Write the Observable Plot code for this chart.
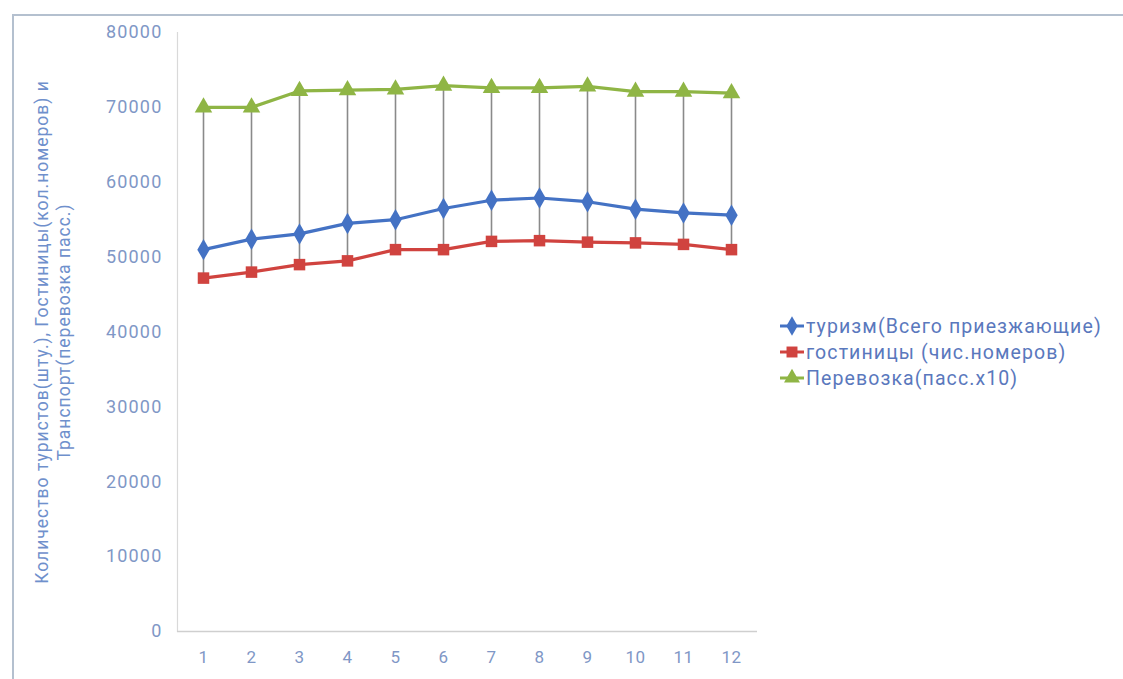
<!DOCTYPE html>
<html><head><meta charset="utf-8">
<script src="https://cdn.jsdelivr.net/npm/d3@7"></script>
<script src="https://cdn.jsdelivr.net/npm/@observablehq/plot@0.6"></script>
<style>
html,body{margin:0;padding:0;background:#fff;}
#wrap{position:relative;width:1123px;height:679px;overflow:hidden;font-family:Roboto,"Noto Sans",sans-serif;}
#frame{position:absolute;left:12px;top:14px;width:1200px;height:800px;border-left:2px solid #b4c0cf;border-top:2px solid #b4c0cf;}
#chart{position:absolute;left:0;top:0;}
#legend{position:absolute;left:780px;top:313px;font-size:19.5px;letter-spacing:1.1px;color:#5a78bd;}
#legend .row{display:flex;align-items:center;height:26px;white-space:nowrap;}
#legend svg{margin-right:2px;}
</style></head>
<body><div id="wrap"><div id="frame"></div><div id="chart"></div><div id="legend"></div></div>
<script>
const months = [1,2,3,4,5,6,7,8,9,10,11,12];
const tourism = [51000,52400,53100,54500,55000,56500,57600,57900,57400,56400,55900,55600];
const hotels  = [47200,48000,49000,49500,51000,51000,52100,52200,52000,51900,51700,51000];
const transport = [70000,70000,72200,72300,72400,72900,72600,72600,72800,72100,72100,71900];
const seriesNames = ["туризм(Всего приезжающие)","гостиницы (чис.номеров)","Перевозка(пасс.x10)"];
const seriesColors = ["#4472c4","#d0433f","#8fb545"];
const seriesSymbols = ["diamond","square","triangle"];
const yTicks = [0,10000,20000,30000,40000,50000,60000,70000,80000];
const yTitle = "Количество туристов(шту.), Гостиницы(кол.номеров) и\nТранспорт(перевозка пасс.)";

const allSeries = [tourism, hotels, transport];
const rows = [];
allSeries.forEach((vals, si) => vals.forEach((v, i) => rows.push({m: months[i], v, s: seriesNames[si]})));
const hl = months.map((m, i) => ({m, lo: Math.min(tourism[i], hotels[i], transport[i]), hi: Math.max(tourism[i], hotels[i], transport[i])}));

const tickColor = "#7f97c6";
const chart = Plot.plot({
  width: 1123, height: 679,
  marginLeft: 177, marginRight: 366, marginTop: 32, marginBottom: 48,
  style: {fontFamily: "Roboto, sans-serif", background: "transparent", overflow: "visible"},
  x: {type: "point", domain: months, padding: 0.5, axis: null},
  y: {domain: [0, 80000], axis: null},
  color: {domain: seriesNames, range: seriesColors},
  symbol: {domain: seriesNames, range: seriesSymbols},
  marks: [
    Plot.gridY(yTicks, {stroke: "#d9d9d9", strokeOpacity: 1, strokeWidth: 1.2, x1: 172, x2: 758}),
    Plot.frame({anchor: "left", stroke: "#d9d9d9", strokeWidth: 1.2}),
    Plot.ruleY([0], {stroke: "#cfcfcf", strokeWidth: 1.4}),
    Plot.text(yTicks, {y: d => d, text: d => String(d), frameAnchor: "left", dx: -15, textAnchor: "end", fill: tickColor, fontSize: 18}),
    Plot.text(months, {x: d => d, text: d => String(d), frameAnchor: "bottom", dy: 31, fill: tickColor, fontSize: 17}),
    Plot.text([yTitle], {frameAnchor: "left", dx: -126, rotate: -90, fill: "#6f90cc", fontSize: 17.5, lineHeight: 1.27, textAnchor: "middle"}),
    Plot.ruleX(hl, {x: "m", y1: "lo", y2: "hi", stroke: "#8a8a8a", strokeWidth: 1.6}),
    Plot.line(rows, {x: "m", y: "v", z: "s", stroke: "s", strokeWidth: 3.2}),
    Plot.dot(rows, {x: "m", y: "v", symbol: "s", fill: "s", r: 6.5, stroke: "none"})
  ]
});
const textGroups = d3.select(chart).selectAll('g[aria-label="text"]').nodes();
if (textGroups[0]) textGroups[0].style.letterSpacing = "1.2px";
if (textGroups[1]) textGroups[1].style.letterSpacing = "0.5px";
if (textGroups[2]) textGroups[2].style.letterSpacing = "1px";
document.getElementById("chart").appendChild(chart);

const legend = document.getElementById("legend");
const symPaths = {
  diamond: d3.symbol(d3.symbolDiamond, 110)(),
  square: d3.symbol(d3.symbolSquare, 120)(),
  triangle: d3.symbol(d3.symbolTriangle, 110)()
};
seriesNames.forEach((name, i) => {
  const row = document.createElement("div");
  row.className = "row";
  row.innerHTML = `<svg width="24" height="20"><line x1="0" y1="10" x2="24" y2="10" stroke="${seriesColors[i]}" stroke-width="3"/><path transform="translate(12,10)" d="${symPaths[seriesSymbols[i]]}" fill="${seriesColors[i]}"/></svg><span>${name}</span>`;
  legend.appendChild(row);
});
</script></body></html>
